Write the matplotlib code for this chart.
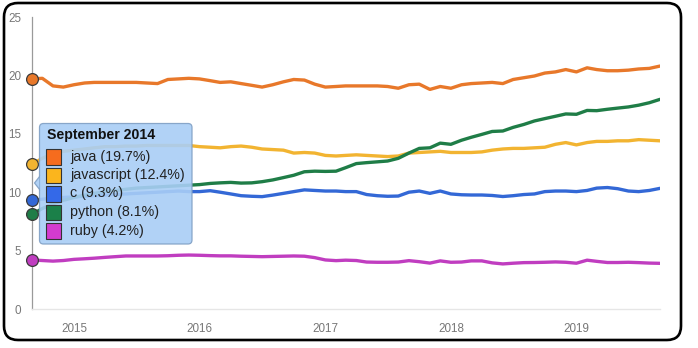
import numpy as np
import pandas as pd
import matplotlib
matplotlib.use("Agg")
import matplotlib.pyplot as plt
from matplotlib.patches import FancyBboxPatch, Polygon, Rectangle
from matplotlib.transforms import IdentityTransform

# monthly share (%) Sep 2014 .. Sep 2019
months = pd.date_range("2014-09-01", periods=61, freq="MS")

java = [19.7, 19.75, 19.1, 19.0, 19.2, 19.35, 19.4, 19.4, 19.4, 19.4,
        19.4, 19.35, 19.3, 19.65, 19.7, 19.75, 19.7, 19.55, 19.4, 19.45,
        19.3, 19.15, 19.0, 19.2, 19.45, 19.65, 19.6, 19.25, 19.0, 19.05,
        19.1, 19.1, 19.1, 19.1, 19.05, 18.9, 19.2, 19.25, 18.8, 19.05,
        18.9, 19.2, 19.3, 19.35, 19.4, 19.3, 19.65, 19.8, 19.95, 20.2,
        20.3, 20.5, 20.3, 20.65, 20.5, 20.4, 20.4, 20.45, 20.55, 20.6, 20.8]

javascript = [12.4, 12.9, 13.3, 13.5, 13.6, 13.7, 13.8, 13.9, 13.9, 13.95,
              13.95, 14.0, 14.0, 14.0, 14.0, 14.0, 13.9, 13.85, 13.8, 13.9,
              13.95, 13.85, 13.7, 13.65, 13.6, 13.35, 13.4, 13.35, 13.15, 13.1,
              13.15, 13.2, 13.15, 13.1, 13.05, 13.1, 13.35, 13.4, 13.45, 13.5,
              13.4, 13.4, 13.4, 13.45, 13.6, 13.7, 13.75, 13.75, 13.8, 13.85,
              14.1, 14.25, 14.05, 14.25, 14.35, 14.35, 14.4, 14.4, 14.5, 14.45, 14.4]

c = [9.3, 9.4, 9.5, 9.55, 9.6, 9.65, 9.7, 9.75, 9.8, 9.85,
     9.9, 9.95, 10.0, 10.05, 10.1, 10.05, 10.05, 10.13, 10.0, 9.85,
     9.7, 9.65, 9.62, 9.75, 9.9, 10.05, 10.2, 10.15, 10.1, 10.1,
     10.05, 10.05, 9.8, 9.7, 9.65, 9.67, 10.0, 10.1, 9.9, 10.1,
     9.85, 9.78, 9.76, 9.76, 9.72, 9.63, 9.7, 9.8, 9.85, 10.05,
     10.1, 10.1, 10.05, 10.15, 10.35, 10.4, 10.3, 10.1, 10.05, 10.15, 10.33]

python = [8.1, 8.6, 9.0, 9.3, 9.55, 9.75, 9.9, 10.05, 10.15, 10.25,
          10.35, 10.4, 10.45, 10.5, 10.55, 10.6, 10.65, 10.75, 10.8, 10.84,
          10.78, 10.8, 10.9, 11.05, 11.25, 11.45, 11.75, 11.8, 11.78, 11.8,
          12.1, 12.45, 12.53, 12.6, 12.67, 12.9, 13.35, 13.75, 13.8, 14.2,
          14.1, 14.45, 14.7, 14.95, 15.2, 15.24, 15.55, 15.8, 16.1, 16.3,
          16.5, 16.7, 16.67, 17.0, 16.98, 17.1, 17.2, 17.3, 17.45, 17.66, 17.95]

ruby = [4.2, 4.15, 4.1, 4.15, 4.25, 4.3, 4.35, 4.42, 4.48, 4.54,
        4.54, 4.54, 4.54, 4.56, 4.6, 4.62, 4.6, 4.57, 4.55, 4.55,
        4.52, 4.5, 4.48, 4.5, 4.52, 4.54, 4.52, 4.4, 4.2, 4.14,
        4.18, 4.15, 4.02, 4.0, 4.0, 4.02, 4.14, 4.05, 3.93, 4.12,
        4.0, 4.02, 4.12, 4.12, 3.95, 3.86, 3.92, 3.97, 3.98, 4.0,
        4.03, 4.0, 3.92, 4.18, 4.08, 3.98, 3.98, 4.0, 3.97, 3.93, 3.91]

names = ["java", "javascript", "c", "python", "ruby"]
series = [java, javascript, c, python, ruby]
line_colors = ["#e8782a", "#f2b431", "#3368d6", "#1f7d47", "#c03dc0"]
box_colors = ["#f66c1e", "#fbb51d", "#3469e8", "#1b8049", "#d43bcf"]

year_ticks = pd.to_datetime(["2015-01-01", "2016-01-01", "2017-01-01",
                             "2018-01-01", "2019-01-01"])
year_labels = ["2015", "2016", "2017", "2018", "2019"]

W, H = 698, 348
plt.rcParams["font.family"] = ["Liberation Sans", "DejaVu Sans"]
fig = plt.figure(figsize=(W / 100, H / 100), dpi=100)
fig.patch.set_facecolor("white")


def px(x, y):
    # top-left pixel coords -> display coords
    return x, H - y


# outer rounded frame
frame = FancyBboxPatch(px(4, 340), 677, 337, boxstyle="round,pad=0,rounding_size=14",
                       transform=IdentityTransform(), facecolor="none",
                       edgecolor="black", linewidth=1.9, zorder=5)
fig.patches.append(frame)

ax = fig.add_axes([32 / W, 39 / H, 628 / W, 292 / H])
ax.set_facecolor("none")

for vals, col in zip(series, line_colors):
    ax.plot(months, vals, color=col, linewidth=2.4, solid_capstyle="round", zorder=3)
    ax.plot(months[0], vals[0], "o", markersize=8.5, color=col,
            markeredgecolor="#3a3a3a", markeredgewidth=0.9, clip_on=False, zorder=6)

ax.set_xlim(months[0], months[-1])
ax.set_ylim(0, 25)
ax.set_yticks([0, 5, 10, 15, 20, 25])
ax.set_xticks(year_ticks)
ax.set_xticklabels(year_labels)

for s in ["top", "right"]:
    ax.spines[s].set_visible(False)
ax.spines["left"].set_color("#9a9a9a")
ax.spines["left"].set_linewidth(0.9)
ax.spines["bottom"].set_color("#e6e6e6")
ax.spines["bottom"].set_linewidth(1.0)
ax.tick_params(axis="both", length=0, labelsize=8.4, labelcolor="#777777")
ax.tick_params(axis="y", pad=8)
ax.tick_params(axis="x", pad=10)

# hover tooltip for the first month
tip = FancyBboxPatch(px(39.5, 244), 152.5, 120.5, boxstyle="round,pad=0,rounding_size=4",
                     transform=IdentityTransform(), facecolor="#a9cef6",
                     edgecolor="#7f9fc4", linewidth=0.9, alpha=0.9, zorder=10)
fig.patches.append(tip)
notch = Polygon([px(40, 176), px(34.5, 183), px(40, 190)], closed=True,
                transform=IdentityTransform(), facecolor="#a9cef6",
                edgecolor="#7f9fc4", linewidth=0.9, alpha=0.9, zorder=10)
fig.patches.append(notch)
fig.patches.append(Rectangle(px(39.8, 190), 1.5, 14, transform=IdentityTransform(),
                             facecolor="#a9cef6", edgecolor="none", zorder=10.5))

fig.text(*px(47, 135), "September 2014", transform=IdentityTransform(),
         fontsize=10.2, fontweight="bold", color="#111111", va="center", ha="left",
         zorder=11)
row_y = [157, 175.5, 194, 212.5, 231]
for name, vals, bc, ry in zip(names, series, box_colors, row_y):
    fig.patches.append(Rectangle(px(45.5, ry + 7.5), 15.5, 15.5,
                                 transform=IdentityTransform(), facecolor=bc,
                                 edgecolor="#333333", linewidth=0.8, zorder=11))
    fig.text(*px(70.5, ry - 0.5), f"{name} ({vals[0]:.1f}%)",
             transform=IdentityTransform(), fontsize=10.3, color="#222222",
             va="center", ha="left", zorder=11)

fig.savefig("out.png", dpi=100)
